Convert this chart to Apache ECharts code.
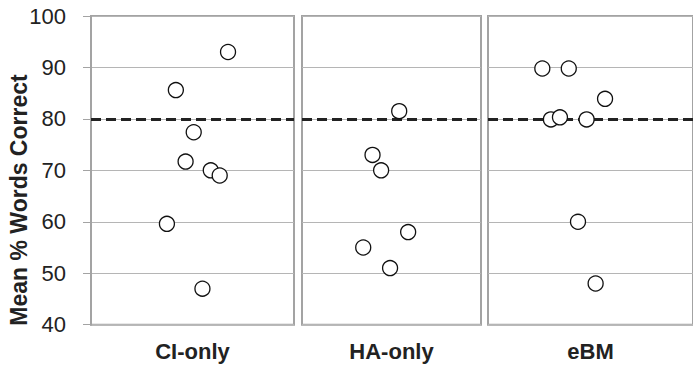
<!DOCTYPE html>
<html>
<head>
<meta charset="utf-8">
<script src="https://cdn.jsdelivr.net/npm/echarts@6/dist/echarts.min.js"></script>
<style>html,body{margin:0;padding:0;background:#fff}#c{width:693px;height:374px}</style>
</head>
<body>
<div id="c"></div>
<script>
// ---- data ----
const categories = ['CI-only', 'HA-only', 'eBM'];
const ciValues = [93, 85.6, 77.4, 71.7, 70, 69, 59.6, 47];
const ciJitter = [0.675, 0.418, 0.506, 0.466, 0.590, 0.634, 0.374, 0.549];
const haValues = [81.5, 73, 70, 58, 55, 51];
const haJitter = [0.543, 0.394, 0.442, 0.593, 0.342, 0.492];
const ebmValues = [89.8, 89.8, 83.9, 79.9, 80.3, 79.9, 60, 48];
const ebmJitter = [0.265, 0.394, 0.571, 0.307, 0.351, 0.481, 0.439, 0.525];
const yTicks = [40, 50, 60, 70, 80, 90, 100];
const criterion = 80;
const yTitle = 'Mean % Words Correct';

const groups = [
  { values: ciValues, jitter: ciJitter },
  { values: haValues, jitter: haJitter },
  { values: ebmValues, jitter: ebmJitter }
];

const FONT = 'Liberation Sans, Arial, sans-serif';
const gridPos = [
  { left: 91, width: 203 },
  { left: 302, width: 179 },
  { left: 488, width: 206 }
];

const chart = echarts.init(document.getElementById('c'), null, { renderer: 'svg' });

const grids = gridPos.map(p => ({
  left: p.left, width: p.width, top: 16, height: 308.7,
  show: true, borderColor: '#a3a3a3', borderWidth: 2, backgroundColor: 'transparent'
}));

const xAxes = categories.map((c, i) => ({
  type: 'value', gridIndex: i, min: 0, max: 1,
  axisLine: { show: false }, axisTick: { show: false }, axisLabel: { show: false },
  splitLine: { show: false },
  name: c, nameLocation: 'middle', nameGap: 16,
  nameTextStyle: { fontFamily: FONT, fontSize: 22, fontWeight: 'bold', color: '#222', verticalAlign: 'top' }
}));

const yAxes = categories.map((c, i) => ({
  type: 'value', gridIndex: i,
  min: yTicks[0], max: yTicks[yTicks.length - 1], interval: yTicks[1] - yTicks[0],
  axisLine: { show: i === 0, lineStyle: { color: '#a3a3a3', width: 2 } },
  axisTick: { show: i === 0, length: 8, lineStyle: { color: '#a3a3a3', width: 1 } },
  axisLabel: { show: i === 0, margin: 25, fontFamily: FONT, fontSize: 22, color: '#222' },
  splitLine: { show: true, lineStyle: { color: '#b5b5b5', width: 1 } }
}));

const series = groups.map((g, i) => ({
  type: 'scatter', xAxisIndex: i, yAxisIndex: i,
  data: g.values.map((v, k) => [g.jitter[k], v]),
  symbol: 'circle', symbolSize: 15,
  itemStyle: { color: '#fff', borderColor: '#111', borderWidth: 1.3, opacity: 1 },
  z: 3,
  markLine: {
    silent: true, symbol: 'none', label: { show: false },
    lineStyle: { color: '#222', type: [10, 5], width: 3 },
    data: [{ yAxis: criterion }],
    z: 2
  }
}));

chart.setOption({
  animation: false,
  backgroundColor: '#fff',
  grid: grids,
  xAxis: xAxes,
  yAxis: yAxes,
  series: series,
  graphic: [{
    type: 'text', x: 19, y: 200, rotation: Math.PI / 2,
    style: {
      text: yTitle, fontFamily: FONT, fontSize: 23, fontWeight: 'bold', fill: '#222',
      textAlign: 'center', textVerticalAlign: 'middle'
    }
  }]
});
</script>
</body>
</html>
